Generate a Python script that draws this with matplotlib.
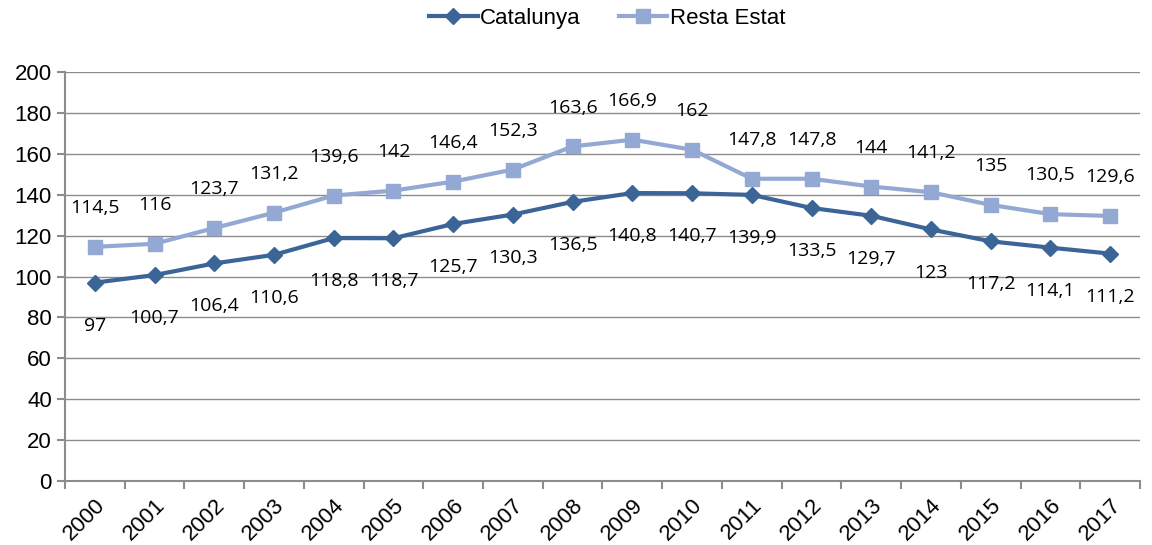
import matplotlib.pyplot as plt
from matplotlib.ticker import FixedLocator, NullFormatter

# Data
years = ['2000', '2001', '2002', '2003', '2004', '2005', '2006', '2007', '2008',
         '2009', '2010', '2011', '2012', '2013', '2014', '2015', '2016', '2017']
catalunya = [97, 100.7, 106.4, 110.6, 118.8, 118.7, 125.7, 130.3, 136.5,
             140.8, 140.7, 139.9, 133.5, 129.7, 123, 117.2, 114.1, 111.2]
resta_estat = [114.5, 116, 123.7, 131.2, 139.6, 142, 146.4, 152.3, 163.6,
               166.9, 162, 147.8, 147.8, 144, 141.2, 135, 130.5, 129.6]

cat_color = '#3B6497'
resta_color = '#93A9D4'
grid_color = '#8C8C8C'


def fmt(v):
    # Catalan style: comma as decimal separator
    s = ('%g' % v)
    return s.replace('.', ',')


fig = plt.figure(figsize=(11.52, 5.45), dpi=100)
ax = fig.add_axes([0.0564, 0.1174, 0.9332, 0.7505])

x = list(range(len(years)))
ax.plot(x, catalunya, color=cat_color, lw=3, marker='D', ms=8,
        label='Catalunya', zorder=3)
ax.plot(x, resta_estat, color=resta_color, lw=3, marker='s', ms=10,
        label='Resta Estat', zorder=3)

# Data labels: Resta above, Catalunya below
for i in x:
    ax.annotate(fmt(resta_estat[i]), (i, resta_estat[i]), xytext=(0, 28),
                textcoords='offset points', ha='center', va='center',
                fontsize=14, family='Open Sans', color='black')
    ax.annotate(fmt(catalunya[i]), (i, catalunya[i]), xytext=(0, -31),
                textcoords='offset points', ha='center', va='center',
                fontsize=14, family='Open Sans', color='black')

ax.set_xlim(-0.5, len(years) - 0.5)
ax.set_ylim(0, 200)
ax.set_yticks(range(0, 201, 20))
ax.yaxis.grid(True, color=grid_color, lw=1)
ax.set_axisbelow(True)

# tick marks between categories, labels at centers
ax.set_xticks(x)
ax.set_xticklabels(years, rotation=45, ha='right', rotation_mode='anchor',
                   family='Liberation Sans', fontsize=16)
ax.tick_params(axis='x', length=0, pad=10)
ax.xaxis.set_minor_locator(FixedLocator([i - 0.5 for i in range(len(years) + 1)]))
ax.xaxis.set_minor_formatter(NullFormatter())
ax.tick_params(axis='x', which='minor', length=6, color=grid_color, width=1.5)
ax.tick_params(axis='y', length=6, color=grid_color, width=1.5, labelsize=16)
for lab in ax.get_yticklabels():
    lab.set_family('Liberation Sans')

for side in ['top', 'right']:
    ax.spines[side].set_visible(False)
for side in ['left', 'bottom']:
    ax.spines[side].set_color(grid_color)
    ax.spines[side].set_linewidth(1.5)

fig.legend(loc='upper center', bbox_to_anchor=(0.527, 1.022), ncol=2,
           frameon=False, prop={'family': 'Liberation Sans', 'size': 16},
           handlelength=2.2, columnspacing=1.7, handletextpad=0.1)

plt.savefig('out.png', dpi=100)
